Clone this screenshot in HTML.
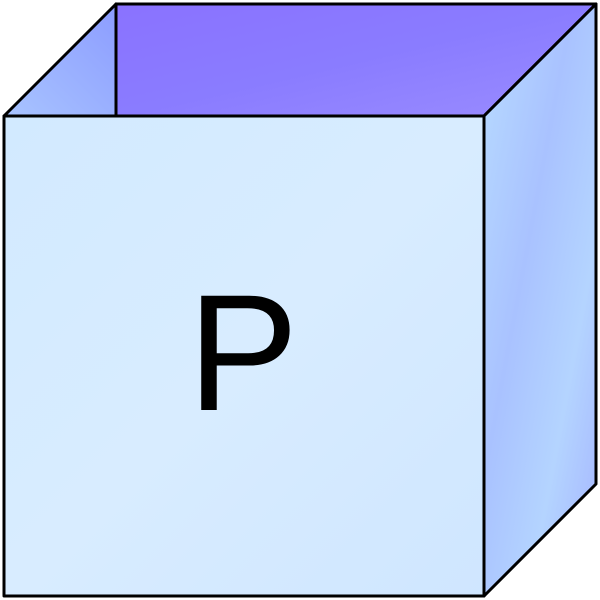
<!DOCTYPE html>
<html>
<head>
<meta charset="utf-8">
<style>
  html, body { margin: 0; padding: 0; background: #ffffff; }
  svg { display: block; }
</style>
</head>
<body>
<svg width="600" height="600" viewBox="0 0 600 600">
  <defs>
    <linearGradient id="backGrad" x1="0" y1="0" x2="1" y2="1">
      <stop offset="0" stop-color="#8a72ff"/>
      <stop offset="0.5" stop-color="#8a7cff"/>
      <stop offset="1" stop-color="#9a8cff"/>
    </linearGradient>
    <linearGradient id="leftGrad" x1="0" y1="1" x2="1" y2="0">
      <stop offset="0" stop-color="#a8c4ff"/>
      <stop offset="1" stop-color="#8c9cff"/>
    </linearGradient>
    <linearGradient id="frontGrad" x1="0" y1="0" x2="1" y2="1">
      <stop offset="0" stop-color="#d2eaff"/>
      <stop offset="0.5" stop-color="#d8ecff"/>
      <stop offset="1" stop-color="#cfe6ff"/>
    </linearGradient>
    <linearGradient id="rightGrad" x1="0" y1="0" x2="1" y2="1">
      <stop offset="0" stop-color="#b8dcff"/>
      <stop offset="0.4" stop-color="#a9c2ff"/>
      <stop offset="0.7" stop-color="#b4d4ff"/>
      <stop offset="1" stop-color="#a4b4ff"/>
    </linearGradient>
  </defs>
  <g stroke="#000" stroke-width="3" stroke-linejoin="round">
    <polygon points="116,4 596,4 484,116 116,116" fill="url(#backGrad)"/>
    <polygon points="4,116 116,4 116,116" fill="url(#leftGrad)"/>
    <polygon points="484,116 596,4 596,484 484,596" fill="url(#rightGrad)"/>
    <rect x="4" y="116" width="480" height="480" fill="url(#frontGrad)"/>
  </g>
  <text x="243" y="410" text-anchor="middle" font-family="Liberation Sans, sans-serif" font-size="166" fill="#000">P</text>
</svg>
</body>
</html>
